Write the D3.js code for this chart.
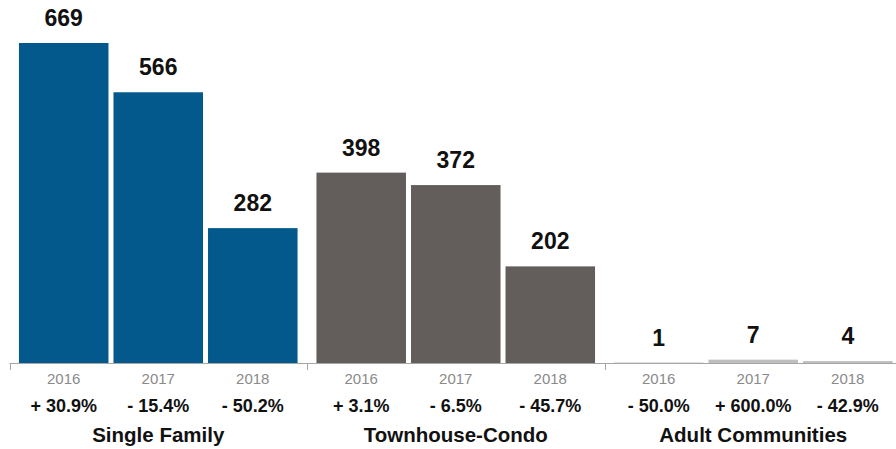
<!DOCTYPE html>
<html>
<head>
<meta charset="utf-8">
<script src="https://cdn.jsdelivr.net/npm/d3@7"></script>
<style>
  html, body { margin: 0; padding: 0; background: #fff; }
  svg { display: block; }
  text { font-family: "Liberation Sans", Arial, Helvetica, sans-serif; }
</style>
</head>
<body>
<svg id="chart" width="896" height="449"></svg>
<script>
// Closed sales by property type, 2016-2018
const categories = ["Single Family", "Townhouse-Condo", "Adult Communities"];
const years = ["2016", "2017", "2018"];
const singleFamily = [669, 566, 282];
const townhouseCondo = [398, 372, 202];
const adultCommunities = [1, 7, 4];
const singleFamilyChange = ["+ 30.9%", "- 15.4%", "- 50.2%"];
const townhouseCondoChange = ["+ 3.1%", "- 6.5%", "- 45.7%"];
const adultCommunitiesChange = ["- 50.0%", "+ 600.0%", "- 42.9%"];
const colors = ["#03598c", "#635d5c", "#bfbfbf"];

const groups = categories.map((c, i) => ({
  name: c,
  color: colors[i],
  values: [singleFamily, townhouseCondo, adultCommunities][i],
  changes: [singleFamilyChange, townhouseCondoChange, adultCommunitiesChange][i]
}));

const svg = d3.select("#chart");
const baseY = 363;

const x0 = d3.scaleBand().domain(categories).range([9.5, 902]).paddingInner(0).paddingOuter(0);
const x1 = d3.scaleBand().domain(years).range([0, x0.bandwidth()])
  .paddingInner(0.053).paddingOuter(0.1);
const y = d3.scaleLinear().domain([0, d3.max(singleFamily)]).range([baseY, 43]);

const g = svg.selectAll("g.group").data(groups).enter().append("g")
  .attr("class", "group")
  .attr("transform", d => `translate(${x0(d.name)},0)`);

const rows = g.selectAll("g.bar").data(d => years.map((yr, i) => ({
  year: yr, value: d.values[i], change: d.changes[i], color: d.color
}))).enter().append("g").attr("class", "bar");

rows.append("rect")
  .attr("x", d => x1(d.year))
  .attr("width", x1.bandwidth())
  .attr("y", d => y(d.value))
  .attr("height", d => baseY - y(d.value))
  .attr("fill", d => d.color);

rows.append("text")
  .attr("x", d => x1(d.year) + x1.bandwidth() / 2)
  .attr("y", d => y(d.value) - 17)
  .attr("text-anchor", "middle")
  .attr("font-size", 23)
  .attr("font-weight", "bold")
  .attr("fill", "#111")
  .text(d => d.value);

rows.append("text")
  .attr("x", d => x1(d.year) + x1.bandwidth() / 2)
  .attr("y", 383.5)
  .attr("text-anchor", "middle")
  .attr("font-size", 15)
  .attr("fill", "#8a8a8a")
  .text(d => d.year);

rows.append("text")
  .attr("x", d => x1(d.year) + x1.bandwidth() / 2)
  .attr("y", 412)
  .attr("text-anchor", "middle")
  .attr("font-size", 18)
  .attr("font-weight", "bold")
  .attr("fill", "#111")
  .text(d => d.change);

g.append("text")
  .attr("x", x0.bandwidth() / 2)
  .attr("y", 442)
  .attr("text-anchor", "middle")
  .attr("font-size", 20.5)
  .attr("font-weight", "bold")
  .attr("fill", "#111")
  .text(d => d.name);

// Baseline axis with ticks at group boundaries
const axis = svg.append("g");
axis.append("line")
  .attr("x1", x0.range()[0]).attr("x2", 896)
  .attr("y1", baseY + 0.5).attr("y2", baseY + 0.5)
  .attr("stroke", "#a6a6a6").attr("stroke-width", 1);
axis.selectAll("line.tick").data(categories).enter().append("line")
  .attr("class", "tick")
  .attr("x1", d => Math.round(x0(d)) + 0.5).attr("x2", d => Math.round(x0(d)) + 0.5)
  .attr("y1", baseY).attr("y2", baseY + 7)
  .attr("stroke", "#a6a6a6").attr("stroke-width", 1);
</script>
</body>
</html>
